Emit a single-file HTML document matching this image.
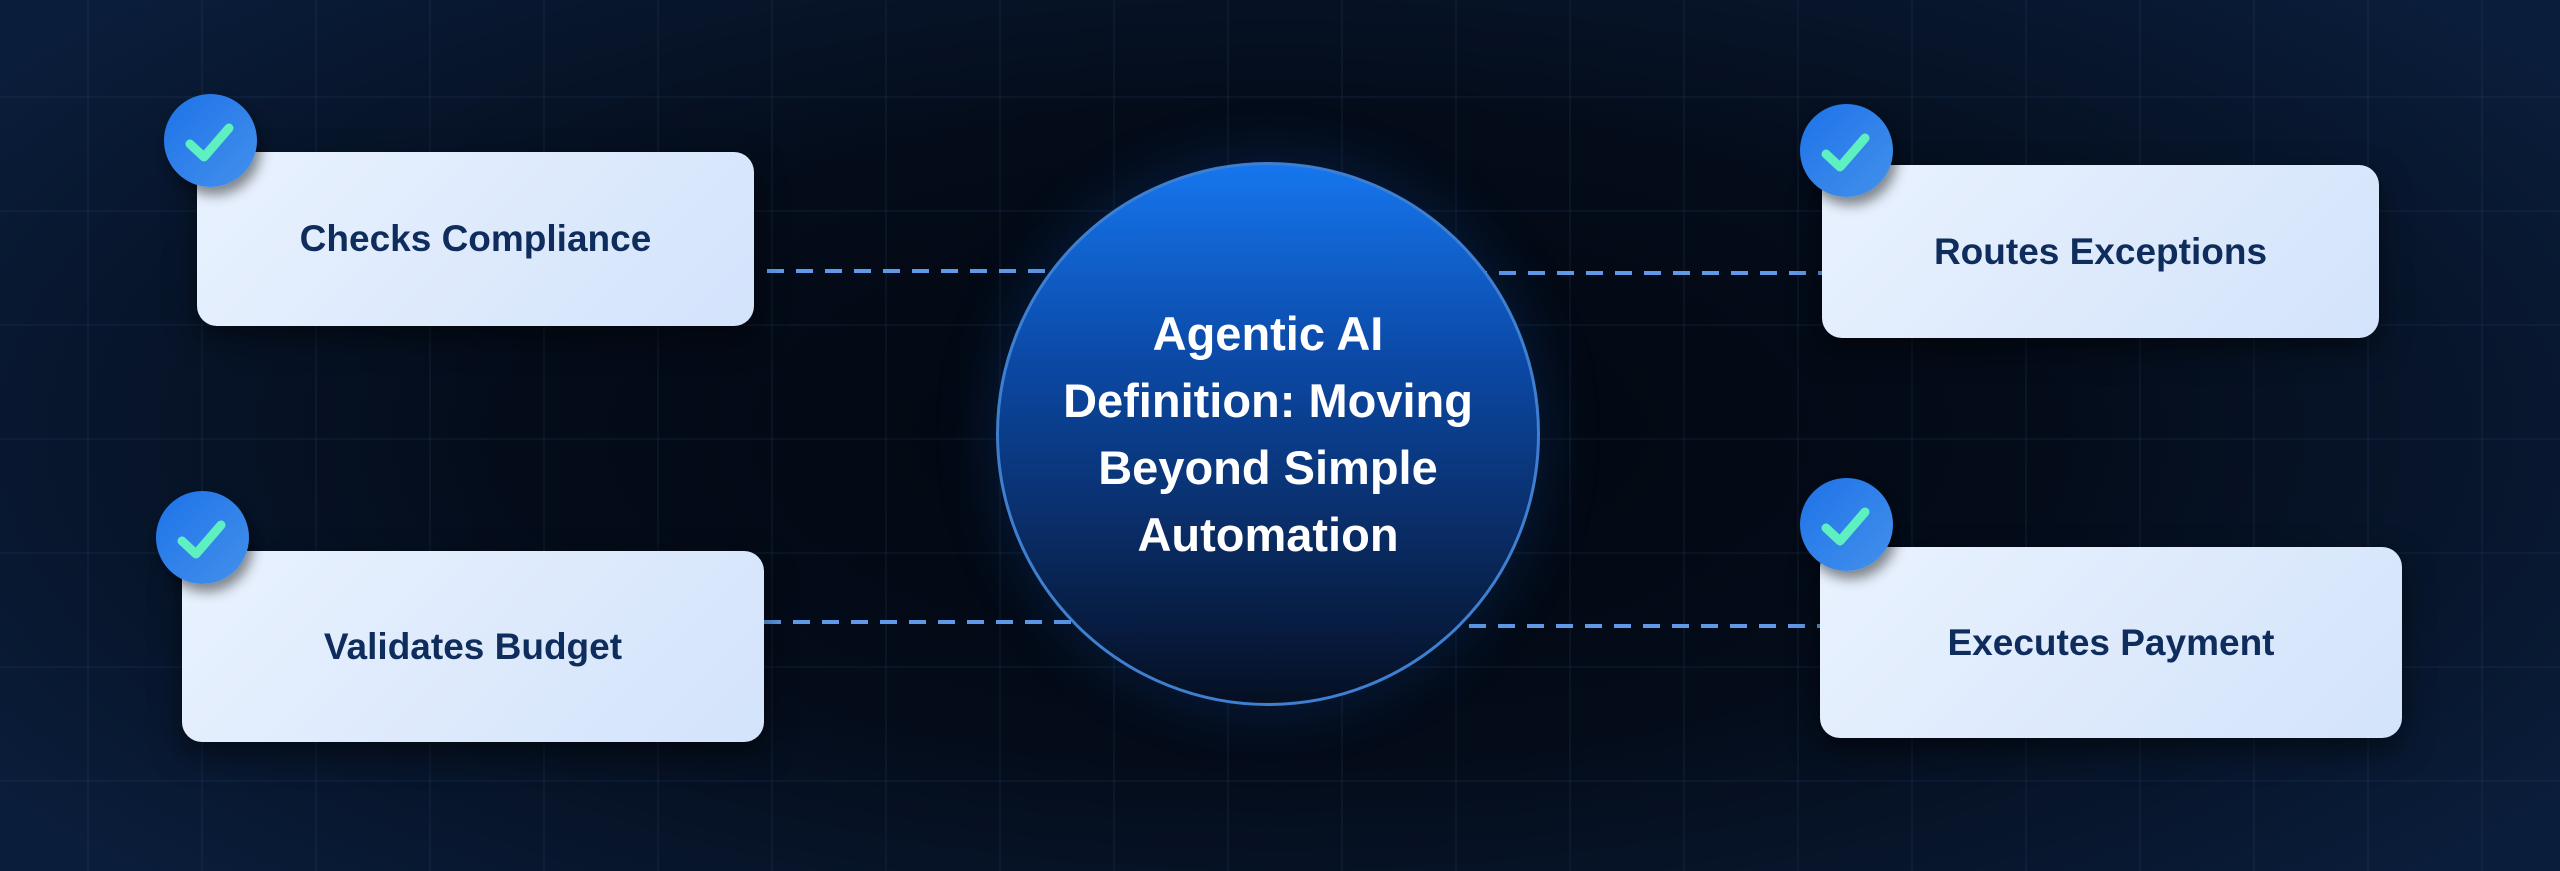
<!DOCTYPE html>
<html><head><meta charset="utf-8"><style>
html,body{margin:0;padding:0}
body{width:2560px;height:871px;overflow:hidden;position:relative;font-family:"Liberation Sans",sans-serif;
background:radial-gradient(ellipse 60% 75% at 50% 50%,#02070f 0%,#040c1a 50%,#0a1d3a 100%);}
.grid{position:absolute;inset:0;background-image:linear-gradient(to right,rgba(80,110,160,0.09) 2px,transparent 2px),linear-gradient(to bottom,rgba(80,110,160,0.09) 2px,transparent 2px);background-size:114px 114px;background-position:-27px -18px}
.box{position:absolute;border-radius:20px;background:linear-gradient(135deg,#e9f2fe,#d3e3fb);box-shadow:0 12px 30px rgba(0,0,0,0.5);display:flex;align-items:center;justify-content:center;color:#0f2d5c;font-weight:bold;font-size:37px}
.chk{position:absolute;width:93px;height:93px;border-radius:50%;background:linear-gradient(135deg,#1e72e8,#4391ec);box-shadow:4px 8px 12px rgba(0,0,0,0.45)}
.chk svg{position:absolute;left:0;top:0}
.dash{position:absolute;height:4px;background:repeating-linear-gradient(to right,#5f9ae8 0 17px,transparent 17px 29px)}
.circ{position:absolute;left:996px;top:162px;width:538px;height:538px;border-radius:50%;background:linear-gradient(180deg,#1676ee 0%,#0b4aa8 35%,#0a2f6c 65%,#050f22 100%);border:3px solid #3e7fd0;box-shadow:0 0 60px rgba(20,90,200,0.25);display:flex;align-items:center;justify-content:center;text-align:center;color:#fff;font-weight:bold;font-size:47px;line-height:67px}
</style></head><body>
<div class="grid"></div>
<div class="dash" style="left:767px;top:269px;width:300px"></div>
<div class="dash" style="left:764px;top:620px;width:320px"></div>
<div class="dash" style="left:1470px;top:271px;width:352px"></div>
<div class="dash" style="left:1440px;top:624px;width:380px"></div>
<div class="circ"><div>Agentic AI<br>Definition: Moving<br>Beyond Simple<br>Automation</div></div>
<div class="box" style="left:197px;top:152px;width:557px;height:174px">Checks Compliance</div>
<div class="box" style="left:182px;top:551px;width:582px;height:191px">Validates Budget</div>
<div class="box" style="left:1822px;top:165px;width:557px;height:173px">Routes Exceptions</div>
<div class="box" style="left:1820px;top:547px;width:582px;height:191px">Executes Payment</div>
<div class="chk" style="left:164px;top:94px"><svg width="93" height="93"><path d="M26 50 L40 63 L65 34" fill="none" stroke="#5ef0c0" stroke-width="9" stroke-linecap="round" stroke-linejoin="round"/></svg></div>
<div class="chk" style="left:156px;top:491px"><svg width="93" height="93"><path d="M26 50 L40 63 L65 34" fill="none" stroke="#5ef0c0" stroke-width="9" stroke-linecap="round" stroke-linejoin="round"/></svg></div>
<div class="chk" style="left:1800px;top:104px"><svg width="93" height="93"><path d="M26 50 L40 63 L65 34" fill="none" stroke="#5ef0c0" stroke-width="9" stroke-linecap="round" stroke-linejoin="round"/></svg></div>
<div class="chk" style="left:1800px;top:478px"><svg width="93" height="93"><path d="M26 50 L40 63 L65 34" fill="none" stroke="#5ef0c0" stroke-width="9" stroke-linecap="round" stroke-linejoin="round"/></svg></div>
</body></html>
